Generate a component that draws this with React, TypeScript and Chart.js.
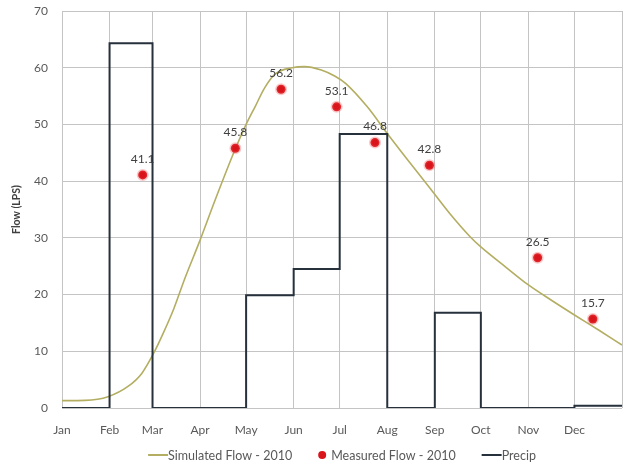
import React, { useEffect, useRef } from "react";
import { Chart, registerables } from "chart.js";

Chart.register(...registerables);

const monthLabels = ["Jan", "Feb", "Mar", "Apr", "May", "Jun", "Jul", "Aug", "Sep", "Oct", "Nov", "Dec", ""];
const monthStartDays = [0, 31, 59, 90, 120, 151, 181, 212, 243, 273, 304, 334, 365];

// Precipitation per month (value held from month start)
const precipValues = [0, 64.3, 0, 0, 19.9, 24.5, 48.3, 0, 16.8, 0, 0, 0.4, 0.4];

// Simulated flow curve (day of year, LPS)
const simDays = [0, 15, 30, 43, 52, 60, 66, 73, 80, 90, 100, 113, 120, 126, 132, 139, 150, 158, 169, 178, 185, 199, 212, 226, 240, 253, 266, 273, 289, 304, 319, 334, 350, 365];
const simValues = [1.3, 1.35, 2.0, 3.8, 6.1, 9.8, 13.2, 17.6, 22.8, 29.6, 36.8, 45.7, 50, 53.2, 56.4, 58.9, 60.0, 60.2, 59.6, 58.5, 57.2, 53.1, 48.4, 43.5, 38.7, 34.2, 30.2, 28.4, 24.9, 21.7, 19.0, 16.4, 13.7, 11.1];

// Measured flow points
const measDays = [52.6, 113, 142.8, 179, 204, 239.5, 310, 346];
const measValues = [41.1, 45.8, 56.2, 53.1, 46.8, 42.8, 26.5, 15.7];

const legendLabels = ["Simulated Flow - 2010", "Measured Flow - 2010", "Precip"];

const FONT = "Lato, 'Open Sans', sans-serif";
const SIM_COLOR = "#b3ae62";
const MEAS_COLOR = "#d9141b";
const PRECIP_COLOR = "#27313c";

const labelPlugin = {
  id: "measLabels",
  afterDatasetsDraw(chart: any) {
    const meta = chart.getDatasetMeta(1);
    const ctx = chart.ctx;
    ctx.save();
    ctx.font = `12px ${FONT}`;
    ctx.fillStyle = "#404040";
    ctx.textAlign = "center";
    ctx.textBaseline = "bottom";
    meta.data.forEach((pt: any, i: number) => {
      ctx.fillText(measValues[i].toFixed(1), pt.x, pt.y - 10);
    });
    ctx.restore();
  },
};

const legendPlugin = {
  id: "customLegend",
  afterDraw(chart: any) {
    const ctx = chart.ctx;
    const area = chart.chartArea;
    const y = 455;
    ctx.save();
    ctx.font = `12.5px ${FONT}`;
    ctx.textBaseline = "middle";
    ctx.textAlign = "left";
    const lineW = 20;
    const dotW = 13;
    const gap = 26;
    const widths = legendLabels.map((t) => ctx.measureText(t).width);
    const markW = [lineW, dotW, lineW];
    let total = 0;
    widths.forEach((w, i) => (total += markW[i] + w));
    total += gap * (legendLabels.length - 1);
    let x = (area.left + area.right) / 2 - total / 2;
    const colors = [SIM_COLOR, MEAS_COLOR, PRECIP_COLOR];
    legendLabels.forEach((t, i) => {
      if (i === 1) {
        ctx.beginPath();
        ctx.fillStyle = MEAS_COLOR;
        ctx.arc(x + 4, y, 4, 0, Math.PI * 2);
        ctx.fill();
      } else {
        ctx.beginPath();
        ctx.strokeStyle = colors[i];
        ctx.lineWidth = 2;
        ctx.moveTo(x, y);
        ctx.lineTo(x + lineW, y);
        ctx.stroke();
      }
      x += markW[i];
      ctx.fillStyle = "#595959";
      ctx.fillText(t, x, y + 1);
      x += widths[i] + gap;
    });
    ctx.restore();
  },
};

export default function App() {
  const ref = useRef<HTMLCanvasElement | null>(null);
  useEffect(() => {
    document.body.style.margin = "0";
    const chart = new Chart(ref.current!, {
      type: "line",
      data: {
        datasets: [
          {
            label: legendLabels[0],
            data: simDays.map((d, i) => ({ x: d, y: simValues[i] })),
            borderColor: SIM_COLOR,
            backgroundColor: SIM_COLOR,
            borderWidth: 1.6,
            pointRadius: 0,
            cubicInterpolationMode: "monotone",
            order: 2,
          },
          {
            label: legendLabels[1],
            data: measDays.map((d, i) => ({ x: d, y: measValues[i] })),
            showLine: false,
            pointRadius: 4.5,
            pointBackgroundColor: MEAS_COLOR,
            pointBorderColor: "rgba(240,80,80,0.3)",
            pointBorderWidth: 3,
            backgroundColor: MEAS_COLOR,
            borderColor: MEAS_COLOR,
            order: 0,
          },
          {
            label: legendLabels[2],
            data: monthStartDays.map((d, i) => ({ x: d, y: precipValues[i] })),
            stepped: "before",
            borderColor: PRECIP_COLOR,
            backgroundColor: PRECIP_COLOR,
            borderWidth: 2,
            pointRadius: 0,
            order: 1,
          },
        ],
      },
      options: {
        animation: false,
        responsive: false,
        maintainAspectRatio: false,
        layout: { autoPadding: false, padding: { top: 11, right: 1, left: 0, bottom: 27 } },
        plugins: {
          tooltip: { enabled: false },
          legend: { display: false },
        },
        scales: {
          x: {
            type: "linear",
            min: 0,
            max: 365,
            afterBuildTicks(scale: any) {
              scale.ticks = monthStartDays.map((v) => ({ value: v }));
            },
            afterFit(scale: any) {
              scale.height = 33;
              scale.paddingLeft = 0;
              scale.paddingRight = 0;
            },
            ticks: {
              autoSkip: false,
              maxRotation: 0,
              font: { family: FONT, size: 12 },
              color: "#595959",
              padding: 15,
              callback(value: any) {
                const idx = monthStartDays.indexOf(value);
                return idx >= 0 ? monthLabels[idx] : "";
              },
            },
            grid: { color: "#c4c4c4", drawTicks: false, lineWidth: 1 },
            border: { display: false },
          },
          y: {
            min: 0,
            max: 70,
            afterFit(scale: any) {
              scale.width = 62;
              scale.paddingTop = 0;
              scale.paddingBottom = 0;
            },
            ticks: {
              stepSize: 10,
              font: { family: FONT, size: 12 },
              color: "#595959",
              padding: 14,
            },
            grid: { color: "#c4c4c4", drawTicks: false, lineWidth: 1 },
            border: { display: false },
            title: {
              display: true,
              text: "Flow (LPS)",
              font: { family: FONT, size: 10.5, weight: "bold" },
              color: "#404040",
              padding: { top: 10, bottom: 0 },
            },
          },
        },
      },
      plugins: [labelPlugin, legendPlugin],
    });
    return () => chart.destroy();
  }, []);
  return (
    <div style={{ width: 623, height: 468 }}>
      <canvas ref={ref} width={623} height={468} />
    </div>
  );
}
